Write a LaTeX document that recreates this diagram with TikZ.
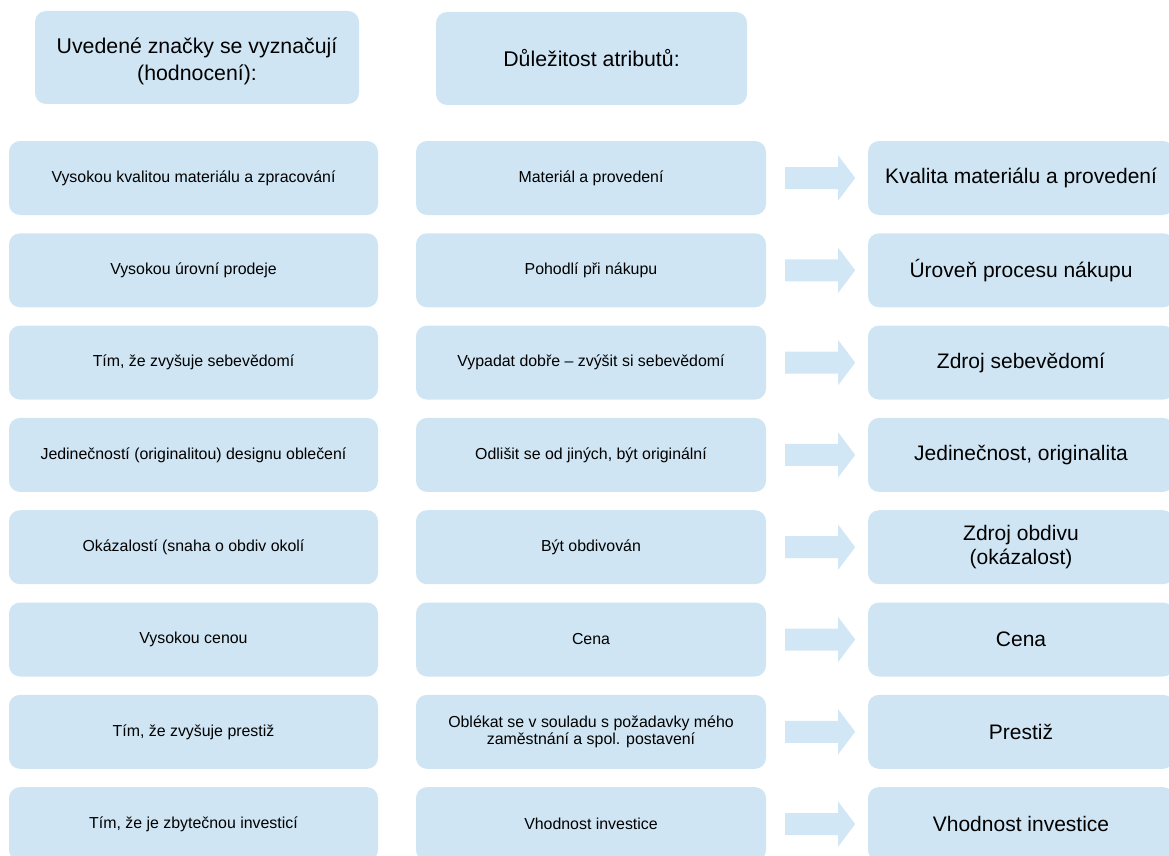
\documentclass[tikz,border=0pt]{standalone}
\usepackage{fontspec}
\setmainfont{Liberation Sans}
\usetikzlibrary{calc}
\definecolor{boxblue}{HTML}{CFE5F3}
\definecolor{arrowblue}{HTML}{D2E7F5}
\begin{document}
\begin{tikzpicture}[x=1pt,y=-1pt,
  box/.style={fill=boxblue,draw=none,rounded corners=11pt,inner sep=2pt,align=center,text=black},
  hdr/.style={box,minimum height=93pt,font=\fontsize{21.3}{27}\selectfont},
  leftbox/.style={box,minimum width=369pt,minimum height=74pt,font=\fontsize{15.9}{17.5}\selectfont},
  midbox/.style={box,minimum width=350pt,minimum height=74pt,font=\fontsize{15.9}{17.5}\selectfont},
  rightbox/.style={box,minimum width=306pt,minimum height=74pt,font=\fontsize{21}{24.5}\selectfont},
  blockarrow/.style={fill=arrowblue,draw=none}]
\useasboundingbox (0,0) rectangle (1169,856);
\node[hdr,minimum width=324pt,
  label={[font=\fontsize{21.3}{27}\selectfont,align=center,yshift=-4pt]center:Uvedené značky se vyznačují\\(hodnocení):}] (h1) at (197,57.5) {};
\node[hdr,minimum width=311pt] (h2) at (591.5,58.5) {Důležitost atributů:};
\foreach \i/\a/\b/\c in {
 1/{Vysokou kvalitou materiálu a zpracování}/{Materiál a provedení}/{Kvalita materiálu a provedení},
 2/{Vysokou úrovní prodeje}/{Pohodlí při nákupu}/{Úroveň procesu nákupu},
 3/{Tím, že zvyšuje sebevědomí}/{Vypadat dobře – zvýšit si sebevědomí}/{Zdroj sebevědomí},
 4/{Jedinečností (originalitou) designu oblečení}/{Odlišit se od jiných, být originální}/{Jedinečnost, originalita},
 5/{Okázalostí (snaha o obdiv okolí}/{Být obdivován}/{Zdroj obdivu\\ (okázalost)},
 6/{Vysokou cenou}/{Cena}/{Cena},
 7/{Tím, že zvyšuje prestiž}/{Oblékat se v souladu s požadavky mého\\zaměstnání a spol. postavení}/{Prestiž},
 8/{Tím, že je zbytečnou investicí}/{Vhodnost investice}/{Vhodnost investice}}{
  \pgfmathsetmacro{\cy}{178+(\i-1)*92.3}
  \node[leftbox] (l\i) at (193.5,\cy) {\a};
  \node[midbox] (m\i) at (591,\cy) {\b};
  \node[rightbox] (r\i) at (1021,\cy) {\c};
  \fill[blockarrow] ($(m\i.east)+(19,-11)$) -- ($(m\i.east)+(72,-11)$) -- ($(m\i.east)+(72,-22.5)$)
     -- ($(m\i.east)+(89,0)$) -- ($(m\i.east)+(72,22.5)$) -- ($(m\i.east)+(72,11)$)
     -- ($(m\i.east)+(19,11)$) -- cycle;
}
\end{tikzpicture}
\end{document}
